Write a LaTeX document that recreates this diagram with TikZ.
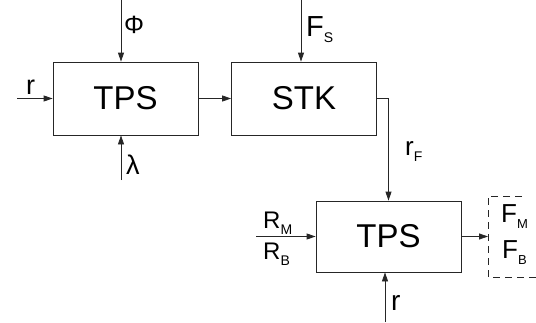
\documentclass[tikz,border=0pt]{standalone}
\usepackage{fontspec}
\setmainfont{Liberation Sans}
\usetikzlibrary{arrows.meta}
\newcommand\subtxt[2]{\raisebox{-6pt}{\fontsize{#1}{#1}\selectfont #2}}
\tikzset{
  blk/.style={draw=black!85, line width=0.8pt, minimum width=145pt, minimum height=73pt, inner sep=0pt, font=\fontsize{33}{33}\selectfont},
  lbl/.style={anchor=base west, inner sep=0pt},
  con/.style={draw=black!85, line width=0.8pt, -{Triangle[length=9pt,width=6pt]}},
  dsh/.style={draw=black!85, line width=0.8pt, dash pattern=on 7pt off 5pt}
}
\begin{document}
\begin{tikzpicture}[x=1pt,y=-1pt]
\useasboundingbox (0,0) rectangle (536,322);
% blocks
\node[blk] (tps1) at (125.5,98.5) {TPS};
\node[blk] (stk) at (304,98.5) {STK};
\node[blk, minimum height=71pt] (tps2) at (388.5,236.5) {TPS};
% free ends
\coordinate (phiS) at (121,0);
\coordinate (lamS) at (121,180);
\coordinate (rS) at (17,98.5);
\coordinate (fsS) at (301,0);
\coordinate (rfC) at (388.5,98.5);
\coordinate (rmS) at (256,236.5);
\coordinate (outE) at (488,236.5);
\coordinate (rbS) at (385,322);
% connectors
\draw[con] (phiS) -- (phiS |- tps1.north);
\draw[con] (lamS) -- (lamS |- tps1.south);
\draw[con] (rS) -- (tps1.west);
\draw[con] (tps1.east) -- (stk.west);
\draw[con] (fsS) -- (fsS |- stk.north);
\draw[con] (stk.east) -- (rfC) -- (tps2.north);
\draw[con] (rmS) -- (tps2.west);
\draw[con] (tps2.east) -- (outE);
\draw[con] (rbS) -- (rbS |- tps2.south);
% dashed bracket
\draw[dsh] (522,196) -- (488,196) -- (488,277) -- (536,277);
% labels
\node[lbl, font=\fontsize{25}{25}\selectfont] (lphi) at (124,33) {Φ};
\node[lbl, font=\fontsize{27}{27}\selectfont] (lr1) at (26,94) {r};
\node[lbl, font=\fontsize{27}{27}\selectfont] (llam) at (126,174) {λ};
\node[lbl, font=\fontsize{29}{29}\selectfont] (lfs) at (306,36) {F\subtxt{14}{S}};
\node[lbl, font=\fontsize{26}{26}\selectfont] (lrf) at (405,155) {r\subtxt{14}{F}};
\node[lbl, font=\fontsize{24}{24}\selectfont] (lrm) at (263,228) {R\subtxt{14}{M}};
\node[lbl, font=\fontsize{24}{24}\selectfont] (lrb) at (263,259) {R\subtxt{14}{B}};
\node[lbl, font=\fontsize{26}{26}\selectfont] (lfm) at (501,222) {F\subtxt{13}{M}};
\node[lbl, font=\fontsize{26}{26}\selectfont] (lfb) at (502,258) {F\subtxt{13}{B}};
\node[lbl, font=\fontsize{28}{28}\selectfont] (lr2) at (391,310) {r};
\end{tikzpicture}
\end{document}
